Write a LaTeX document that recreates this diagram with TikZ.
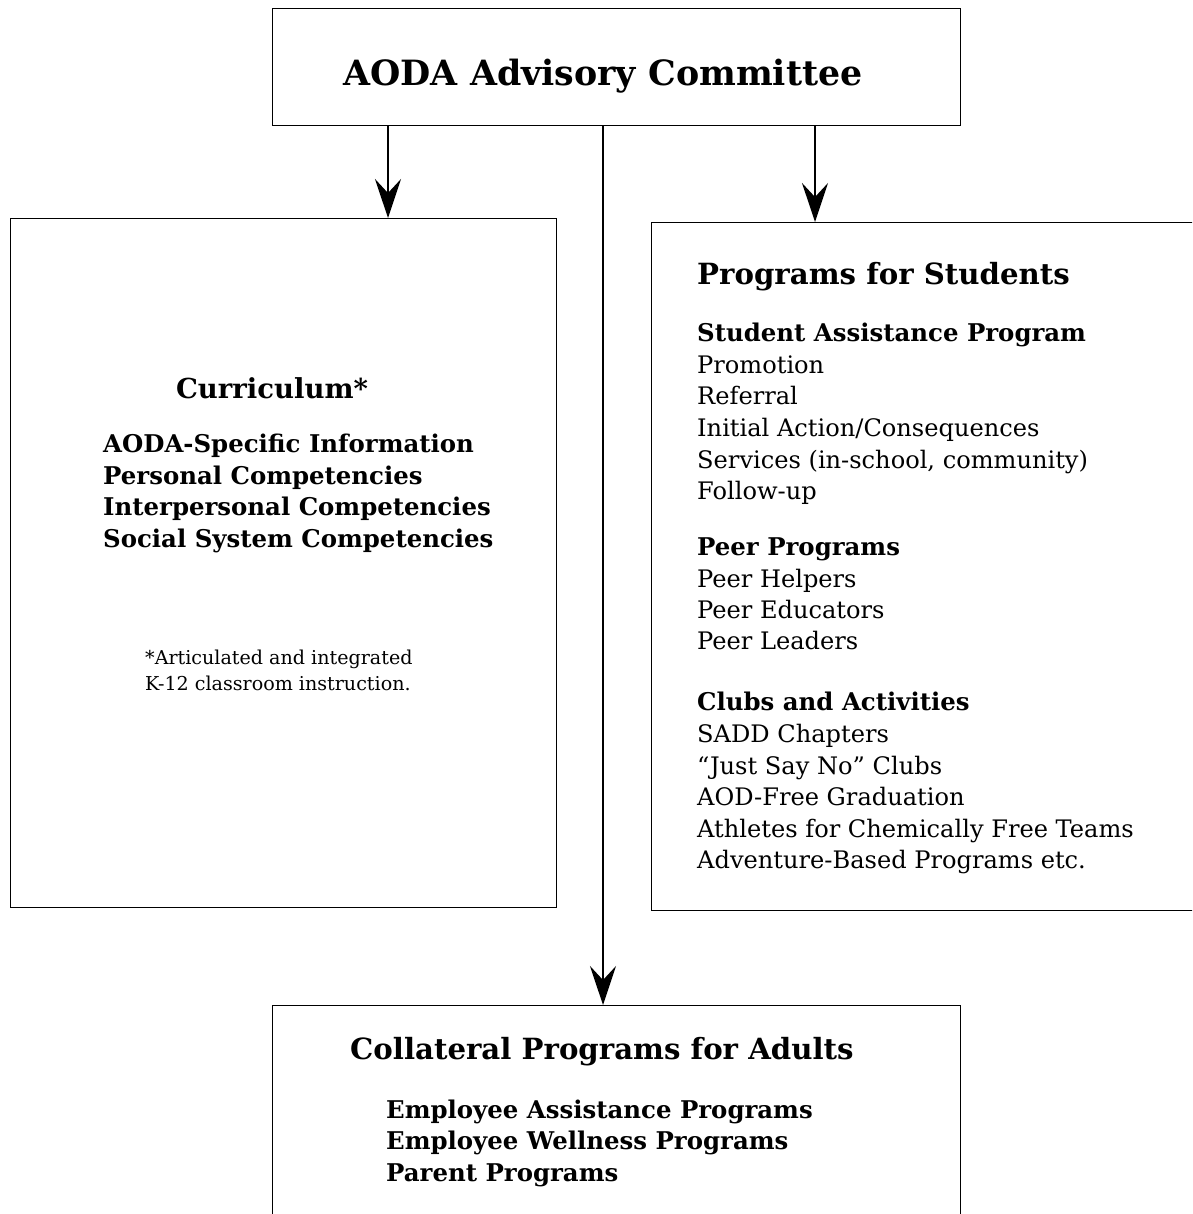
\documentclass[tikz,border=0pt]{standalone}
\usepackage{fontspec}
\setmainfont{DejaVu Serif}
\usetikzlibrary{arrows.meta}
\begin{document}
\begin{tikzpicture}[x=1pt,y=-1pt,
  frame/.style={draw, line width=1.1pt, inner sep=0pt, anchor=north west},
  link/.style={line width=1.6pt, -{Stealth[length=39pt,width=26pt,inset=14pt]}},
  titletext/.style={anchor=base, inner sep=0pt, font=\fontsize{34.8}{42}\selectfont\bfseries},
  headtext/.style={anchor=base west, inner sep=0pt, font=\fontsize{29.2}{35}\selectfont\bfseries},
  bodytext/.style={anchor=base west, inner sep=0pt, font=\fontsize{24.1}{30}\selectfont},
  boldtext/.style={anchor=base west, inner sep=0pt, font=\fontsize{24.4}{30}\selectfont\bfseries},
  notetext/.style={anchor=base west, inner sep=0pt, font=\fontsize{19.1}{23}\selectfont}]
\useasboundingbox (0,0) rectangle (1192,1214);
\clip (0,0) rectangle (1192,1214);

% boxes
\node[frame, minimum width=688pt, minimum height=117pt] (top) at (272,8) {};
\node[frame, minimum width=546pt, minimum height=689pt] (cur) at (10,218) {};
\node[frame, minimum width=600pt, minimum height=688pt] (stu) at (651,222) {};
\node[frame, minimum width=688pt, minimum height=260pt] (adu) at (272,1005) {};

% connectors
\coordinate (xl) at (388,0);
\coordinate (xm) at (603,0);
\coordinate (xr) at (815,0);
\draw[link] (top.south -| xl) -- (cur.north -| xl);
\draw[link] (top.south -| xm) -- (adu.north -| xm);
\draw[link] (top.south -| xr) -- (stu.north -| xr);

% committee
\node[titletext] (ttl) at (603,86) {AODA Advisory Committee};

% curriculum
\node[headtext, anchor=base, font=\fontsize{27.5}{33}\selectfont\bfseries] (curh) at (272,398) {Curriculum*};
\node[boldtext] (c1) at (103,452) {AODA-Specific Information};
\node[boldtext] (c2) at (103,484) {Personal Competencies};
\node[boldtext] (c3) at (103,515) {Interpersonal Competencies};
\node[boldtext] (c4) at (103,547) {Social System Competencies};
\node[notetext] (n1) at (145,664) {*Articulated and integrated};
\node[notetext] (n2) at (145,690) {K-12 classroom instruction.};

% programs for students
\node[headtext] (stuh) at (697,284) {Programs for Students};
\foreach \t/\y [count=\i] in {Student Assistance Program/341, Peer Programs/555, Clubs and Activities/710}
  \node[boldtext] (sh\i) at (697,\y) {\t};
\foreach \t/\y [count=\i] in {Promotion/373, Referral/404, {Initial Action/Consequences}/436,
    {Services (in-school, community)}/468, Follow-up/499,
    Peer Helpers/587, Peer Educators/618, Peer Leaders/649,
    SADD Chapters/742, “Just Say No” Clubs/774, AOD-Free Graduation/805,
    Athletes for Chemically Free Teams/837, Adventure-Based Programs etc./868}
  \node[bodytext] (si\i) at (697,\y) {\t};

% adults
\node[headtext] (aduh) at (350,1059) {Collateral Programs for Adults};
\node[boldtext] (a1) at (386,1118) {Employee Assistance Programs};
\node[boldtext] (a2) at (386,1149) {Employee Wellness Programs};
\node[boldtext] (a3) at (386,1181) {Parent Programs};
\end{tikzpicture}
\end{document}
